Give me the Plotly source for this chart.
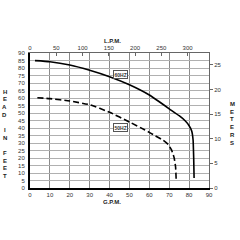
import plotly.graph_objects as go

# Data
gpm_60 = [2.5, 10, 20, 30, 40, 50, 60, 65, 70, 75, 78, 80, 81.3, 82.0, 82.3, 82.5]
head_60 = [84.9, 84.2, 82.0, 78.5, 74.2, 68.8, 62.0, 57.5, 52.8, 48.2, 44.8, 41.5, 38.0, 32.0, 20.0, 6.7]

gpm_50 = [3.7, 10, 20, 30, 40, 50, 57.8, 63, 67, 69.5, 71.2, 72.5, 73.2, 73.5]
head_50 = [60.2, 59.6, 58.0, 55.5, 50.5, 44.0, 38.7, 34.8, 31.8, 29.0, 25.3, 20.0, 14.0, 5.3]

gpm_ticks = [0, 10, 20, 30, 40, 50, 60, 70, 80, 90]
lpm_ticks = [0, 50, 100, 150, 200, 250, 300]
feet_ticks = [0, 5, 10, 15, 20, 25, 30, 35, 40, 45, 50, 55, 60, 65, 70, 75, 80, 85, 90]
meter_ticks = [0, 5, 10, 15, 20, 25]

GPM_MAX = 90
FT_MAX = 90
LPM_PER_GPM = 3.78541
M_PER_FT = 0.3048

font_ticks = dict(family="Liberation Sans, Arial, sans-serif", size=6, color="#333")
font_title = dict(family="Liberation Sans, Arial, sans-serif", size=6, color="#222")

fig = go.Figure()
fig.add_trace(go.Scatter(x=gpm_60, y=head_60, mode="lines",
                         line=dict(color="black", width=1.6, shape="spline", smoothing=0.4),
                         showlegend=False, hoverinfo="skip"))
fig.add_trace(go.Scatter(x=gpm_50, y=head_50, mode="lines",
                         line=dict(color="black", width=1.6, dash="6px,3px", shape="spline", smoothing=0.4),
                         showlegend=False, hoverinfo="skip"))
# invisible traces to activate secondary axes
fig.add_trace(go.Scatter(x=[0], y=[0], xaxis="x2", yaxis="y", mode="markers",
                         marker=dict(opacity=0), showlegend=False, hoverinfo="skip"))
fig.add_trace(go.Scatter(x=[0], y=[0], xaxis="x", yaxis="y2", mode="markers",
                         marker=dict(opacity=0), showlegend=False, hoverinfo="skip"))

fig.update_layout(
    width=240, height=240,
    margin=dict(l=30, r=31, t=53, b=52),
    paper_bgcolor="white", plot_bgcolor="white",
    xaxis=dict(range=[0, GPM_MAX], tickvals=gpm_ticks, showgrid=True, gridcolor="#8a8a8a", gridwidth=1,
               showline=True, linecolor="black", linewidth=2, ticks="", tickfont=font_ticks,
               zeroline=False, fixedrange=True, ticklabelstandoff=0),
    xaxis2=dict(range=[0, GPM_MAX * LPM_PER_GPM], tickvals=lpm_ticks, overlaying="x", side="top",
                showgrid=False, showline=True, linecolor="#666", linewidth=1, ticks="inside",
                ticklen=3, tickcolor="#666", tickfont=font_ticks, zeroline=False, fixedrange=True),
    yaxis=dict(range=[0, FT_MAX], tickvals=feet_ticks, showgrid=True, gridcolor="#b0b0b0", gridwidth=1,
               showline=True, linecolor="black", linewidth=2, ticks="", tickfont=font_ticks,
               zeroline=False, fixedrange=True, ticklabelstandoff=2),
    yaxis2=dict(range=[0, FT_MAX * M_PER_FT], tickvals=meter_ticks, overlaying="y", side="right",
                showgrid=False, showline=True, linecolor="#666", linewidth=1, ticks="outside",
                ticklen=3, tickcolor="#666", tickfont=font_ticks, zeroline=False, fixedrange=True),
)

def px(xp, yp):
    return (xp - 30) / (240 - 30 - 31), (240 - 52 - yp) / (240 - 53 - 52)

ann = []
for txt, (xp, yp) in [("<b>L.P.M.</b>", (112, 41.5)), ("<b>G.P.M.</b>", (112, 201.5))]:
    xx, yy = px(xp, yp)
    ann.append(dict(text=txt, x=xx, y=yy, xref="paper", yref="paper", showarrow=False, font=font_title))

left_letters = ["H", "E", "A", "D", "", "I", "N", "", "F", "E", "E", "T"]
for i, ch in enumerate(left_letters):
    if ch:
        xx, yy = px(4.5, 91.7 + i * 7.66)
        ann.append(dict(text="<b>" + ch + "</b>", x=xx, y=yy, xref="paper", yref="paper",
                        showarrow=False, font=font_title))
right_letters = ["M", "E", "T", "E", "R", "S"]
for i, ch in enumerate(right_letters):
    xx, yy = px(232, 104 + i * 7.7)
    ann.append(dict(text="<b>" + ch + "</b>", x=xx, y=yy, xref="paper", yref="paper",
                    showarrow=False, font=font_title))

box_font = dict(family="Liberation Sans, Arial, sans-serif", size=5, color="#333")
ann.append(dict(text="<b>60HZ</b>", x=45.7, y=75.5, xref="x", yref="y", showarrow=False,
                font=box_font, bordercolor="#555", borderwidth=1, borderpad=0.5, bgcolor="white"))
ann.append(dict(text="<b>50HZ</b>", x=45.7, y=40.5, xref="x", yref="y", showarrow=False,
                font=box_font, bordercolor="#555", borderwidth=1, borderpad=0.5, bgcolor="white"))

for a in ann:
    a.setdefault("xanchor", "center")
    a.setdefault("yanchor", "middle")
fig.update_layout(annotations=ann)

fig.write_html("out.html")
